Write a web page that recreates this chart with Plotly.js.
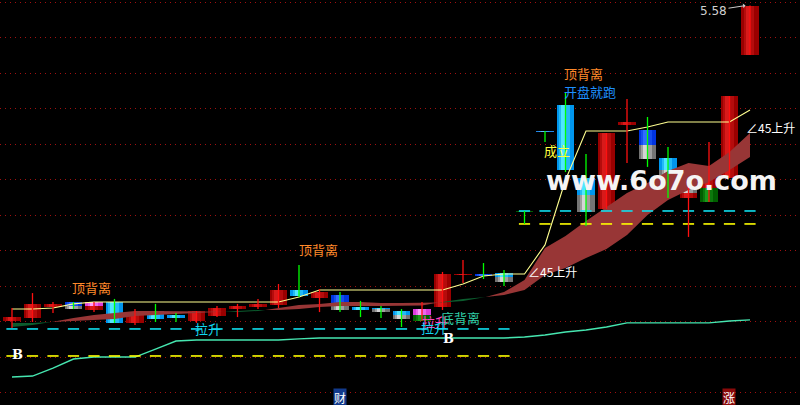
<!DOCTYPE html>
<html><head><meta charset="utf-8">
<script src="https://cdn.plot.ly/plotly-3.0.1.min.js"></script>
<style>html,body{margin:0;padding:0;background:#000;}#chart{width:800px;height:405px;}</style>
</head><body><div id="chart"></div>
<script>
// ---- data (prices) ----
const openP  = [3.805,3.822,3.884,3.912,3.867,3.912,3.794,3.861,3.839,3.805,3.833,3.872,3.884,3.895,3.979,3.934,3.951,3.884,3.878,3.861,3.805,3.884,4.064,4.069,4.075,4.424,4.874,5.020,4.610,4.435,4.908,4.880,4.722,4.497,4.475,4.610,5.302];
const closeP = [3.827,3.901,3.901,3.872,3.912,3.794,3.850,3.816,3.822,3.861,3.878,3.889,3.901,3.979,3.946,3.968,3.867,3.867,3.855,3.816,3.872,4.069,4.069,4.058,4.024,4.418,4.868,4.655,4.418,4.863,4.925,4.717,4.587,4.553,4.610,5.071,5.580];
const highP  = [3.878,3.962,3.912,3.912,3.912,3.929,3.872,3.901,3.850,3.861,3.889,3.901,3.929,4.013,4.120,3.985,3.968,3.918,3.889,3.872,3.912,4.081,4.148,4.131,4.092,4.424,4.874,5.088,4.745,4.863,5.054,4.953,4.784,4.570,4.812,5.071,5.580];
const lowP   = [3.766,3.799,3.850,3.872,3.855,3.794,3.782,3.799,3.799,3.794,3.827,3.827,3.872,3.878,3.940,3.855,3.855,3.827,3.822,3.771,3.805,3.867,4.019,4.041,4.002,4.351,4.812,4.643,4.340,4.435,4.694,4.672,4.497,4.278,4.475,4.610,5.302];
const splitP = [null,null,null,3.889,3.889,null,null,null,null,null,null,null,null,null,null,null,3.906,null,3.872,3.839,3.839,null,null,null,4.053,null,null,null,4.514,null,null,4.795,4.655,4.525,4.553,null,null];
const signal = ['up','up','up','bg','mr','dn','up','dn','dn','up','up','up','up','up','dn','up','bg','dn','cg','cg','mg','up','up','bl','cg','gd','ln','dn','cg','up','up','bg','cg','gr','rg','up','up'];
const fastMA = [3.771,3.782,3.800,3.822,3.839,3.850,3.861,3.861,3.861,3.861,3.858,3.855,3.861,3.878,3.895,3.901,3.912,3.912,3.906,3.906,3.906,3.909,3.918,3.936,3.968,4.036,4.216,4.283,4.368,4.446,4.525,4.582,4.649,4.694,4.677,4.756,4.863];
const slowMA = [3.794,3.794,3.799,3.805,3.811,3.816,3.833,3.839,3.844,3.850,3.855,3.861,3.867,3.867,3.872,3.884,3.889,3.889,3.889,3.889,3.892,3.912,3.929,3.938,3.951,3.979,4.064,4.103,4.159,4.210,4.289,4.401,4.486,4.542,4.587,4.655,4.728];
const yellowLine = [3.872,3.872,3.878,3.901,3.912,3.912,3.912,3.912,3.912,3.912,3.912,3.912,3.912,3.912,3.940,3.979,3.979,3.979,3.979,3.979,3.979,3.979,4.013,4.058,4.069,4.069,4.233,4.598,4.874,4.874,4.874,4.897,4.925,4.925,4.925,4.925,4.992];
const mintLine = [3.490,3.495,3.540,3.591,3.602,3.602,3.602,3.647,3.692,3.698,3.698,3.698,3.698,3.698,3.704,3.709,3.709,3.709,3.709,3.709,3.709,3.709,3.709,3.709,3.709,3.715,3.726,3.743,3.754,3.771,3.794,3.794,3.794,3.794,3.794,3.805,3.811];
const cyanLevel = [3.760,3.760,3.760,3.760,3.760,3.760,3.760,3.760,3.760,3.760,3.760,3.760,3.760,3.760,3.760,3.760,3.760,3.760,3.760,3.760,3.760,3.760,3.760,3.760,3.760,4.424,4.424,4.424,4.424,4.424,4.424,4.424,4.424,4.424,4.424,4.424,4.424];
const yellowLevel = [3.608,3.608,3.608,3.608,3.608,3.608,3.608,3.608,3.608,3.608,3.608,3.608,3.608,3.608,3.608,3.608,3.608,3.608,3.608,3.608,3.608,3.608,3.608,3.608,3.608,4.351,4.351,4.351,4.351,4.351,4.351,4.351,4.351,4.351,4.351,4.351,4.351];
const gridLevels = [3.4,3.6,3.8,4.0,4.2,4.4,4.6,4.8,5.0,5.2,5.4,5.6];
const lastPriceLabel = '5.58';

// ---- styles ----
const PAL = {
  red:['#9a0000','#d81a1a'], cyan:['#0096ee','#4ee6ff'], blue:['#0034e0','#2f6cff'],
  gray:['#747474','#d4d4d4'], mag:['#dd3ddd','#ff9cff'], green:['#005e00','#1a9a1a'], line:['#1f86e8','#5cc0ff']
};
const TONES = {up:['red','red'], dn:['cyan','cyan'], bg:['blue','gray'], cg:['cyan','gray'], mr:['mag','red'],
  mg:['mag','green'], gr:['gray','red'], rg:['red','green'], bl:['blue','blue'], gd:['green','green'], ln:['line','line']};
const RED_WICK = new Set(['up','mr','mg','gr','rg']);

const idx = openP.map((_, i) => i);
const traces = [];

// ribbon between fast and slow averages
(function(){
  const segs = [];
  let seg = null;
  for (let i = 0; i < idx.length; i++) {
    const d = fastMA[i] - slowMA[i];
    const s = d >= 0 ? 1 : -1;
    if (!seg) { seg = {s, xs:[i], f:[fastMA[i]], sl:[slowMA[i]]}; continue; }
    if (s === seg.s) { seg.xs.push(i); seg.f.push(fastMA[i]); seg.sl.push(slowMA[i]); }
    else {
      const dp = fastMA[i-1] - slowMA[i-1];
      const t = dp / (dp - d);
      const xc = i - 1 + t, yc = fastMA[i-1] + t * (fastMA[i] - fastMA[i-1]);
      seg.xs.push(xc); seg.f.push(yc); seg.sl.push(yc);
      segs.push(seg);
      seg = {s, xs:[xc, i], f:[yc, fastMA[i]], sl:[yc, slowMA[i]]};
    }
  }
  segs.push(seg);
  segs.forEach(g => {
    traces.push({type:'scatter', mode:'lines', x:g.xs.concat(g.xs.slice().reverse()),
      y:g.f.concat(g.sl.slice().reverse()), fill:'toself',
      fillcolor: g.s > 0 ? '#983636' : '#0b5c2e', line:{width:0}, hoverinfo:'skip', showlegend:false});
  });
})();

// indicator lines
traces.push({type:'scatter', mode:'lines', x:idx, y:mintLine, line:{color:'#46e6b0', width:1.4}, hoverinfo:'skip'});
traces.push({type:'scatter', mode:'lines', x:idx, y:yellowLine, line:{color:'#ffff90', width:1.1}, hoverinfo:'skip'});
// level dashes
traces.push({type:'scatter', mode:'markers', x:idx, y:cyanLevel,
  marker:{symbol:'line-ew', size:8, line:{color:'#10e0f0', width:1.6}}, hoverinfo:'skip'});
traces.push({type:'scatter', mode:'markers', x:idx, y:yellowLevel,
  marker:{symbol:'line-ew', size:8, line:{color:'#ffff00', width:1.6}}, hoverinfo:'skip'});

// wicks
const wr = {x:[], y:[]}, wg = {x:[], y:[]};
idx.forEach(i => {
  const w = RED_WICK.has(signal[i]) ? wr : wg;
  w.x.push(i, i, null); w.y.push(lowP[i], highP[i], null);
});
traces.push({type:'scatter', mode:'lines', x:wr.x, y:wr.y, line:{color:'#ff1010', width:1.3}, hoverinfo:'skip'});
traces.push({type:'scatter', mode:'lines', x:wg.x, y:wg.y, line:{color:'#00ff00', width:1.3}, hoverinfo:'skip'});

// bodies
const groups = {};
function addSeg(col, i, lo, hi) {
  if (!groups[col]) groups[col] = {x:[], base:[], h:[]};
  groups[col].x.push(i); groups[col].base.push(lo); groups[col].h.push(hi - lo);
}
idx.forEach(i => {
  let top = Math.max(openP[i], closeP[i]), bot = Math.min(openP[i], closeP[i]);
  if (top - bot < 0.007) top = bot + 0.007;
  const [ct, cb] = TONES[signal[i]];
  if (splitP[i] !== null) { addSeg(ct, i, splitP[i], top); addSeg(cb, i, bot, splitP[i]); }
  else addSeg(ct, i, bot, top);
});
Object.keys(groups).forEach(col => {
  const g = groups[col];
  traces.push({type:'bar', x:g.x, y:g.h, base:g.base, width:0.83, offset:-0.415,
    marker:{color:PAL[col][0], line:{width:0}}, hoverinfo:'skip'});
  traces.push({type:'bar', x:g.x, y:g.h, base:g.base, width:0.5, offset:-0.3,
    marker:{color:PAL[col][1], opacity:0.45, line:{width:0}}, hoverinfo:'skip'});
  traces.push({type:'bar', x:g.x, y:g.h, base:g.base, width:0.2, offset:-0.2,
    marker:{color:PAL[col][1], line:{width:0}}, hoverinfo:'skip'});
});

const CJK = '"Noto Sans CJK SC", sans-serif';
function txt(x, y, text, color, size, extra) {
  return Object.assign({x, y, text, showarrow:false, font:{family:CJK, size:size||13, color}}, extra||{});
}
const annotations = [
  txt(3.9, 3.991, '顶背离', '#ff8a2a'),
  txt(14.93, 4.205, '顶背离', '#ff8a2a'),
  txt(27.9, 5.195, '顶背离', '#ff8a2a'),
  txt(28.2, 5.094, '开盘就跑', '#1e90ff'),
  txt(26.6, 4.762, '成立', '#ffff40'),
  txt(9.56, 3.760, '拉升', '#10d8f0'),
  txt(20.65, 3.800, '拉升', '#ff40c0'),
  txt(20.6, 3.770, '拉升', '#10d8f0'),
  txt(21.9, 3.822, '底背离', '#30d0a8'),
  txt(25.05, 4.086, '∠45上升', '#ffffff', 12, {xanchor:'left'}),
  txt(38.3, 4.894, '∠45上升', '#ffffff', 12, {xanchor:'right'}),
  {x:0.29, y:3.614, text:'<b>B</b>', showarrow:false, font:{family:'DejaVu Serif', size:13, color:'#ffffff'}},
  {x:21.27, y:3.709, text:'<b>B</b>', showarrow:false, font:{family:'DejaVu Serif', size:13, color:'#ffffff'}},
  txt(16.0, 3.372, '财', '#ffffff', 12, {bgcolor:'#123a8c', borderpad:0}),
  txt(34.98, 3.372, '涨', '#ffffff', 12, {bgcolor:'#8a0a0a', borderpad:0}),
  {x:35.78, y:highP[36], text:lastPriceLabel, showarrow:true, arrowhead:1, arrowsize:0.8, arrowwidth:1,
    arrowcolor:'#cccccc', ax:-32, ay:5, font:{family:'DejaVu Sans', size:12, color:'#d0d0d0'}},
  {x:31.7, y:4.593, text:'<b>www.6o7o.com</b>', showarrow:false,
    font:{family:'DejaVu Sans', size:27, color:'#f4f4f4'}}
];

const layout = {
  width:800, height:405, autosize:false,
  margin:{l:0, r:0, t:0, b:0, pad:0},
  paper_bgcolor:'#000', plot_bgcolor:'#000',
  showlegend:false, barmode:'overlay', bargap:0,
  xaxis:{range:[-0.585, 38.439], showgrid:false, zeroline:false, showticklabels:false, showline:false, fixedrange:true},
  yaxis:{range:[3.3321, 5.6113], tickvals:gridLevels, showticklabels:false, zeroline:false, showline:false,
    showgrid:true, gridcolor:'#a01010', gridwidth:1, griddash:'1px,4px', fixedrange:true},
  annotations
};
Plotly.newPlot('chart', traces, layout, {staticPlot:true, displayModeBar:false});
</script></body></html>
